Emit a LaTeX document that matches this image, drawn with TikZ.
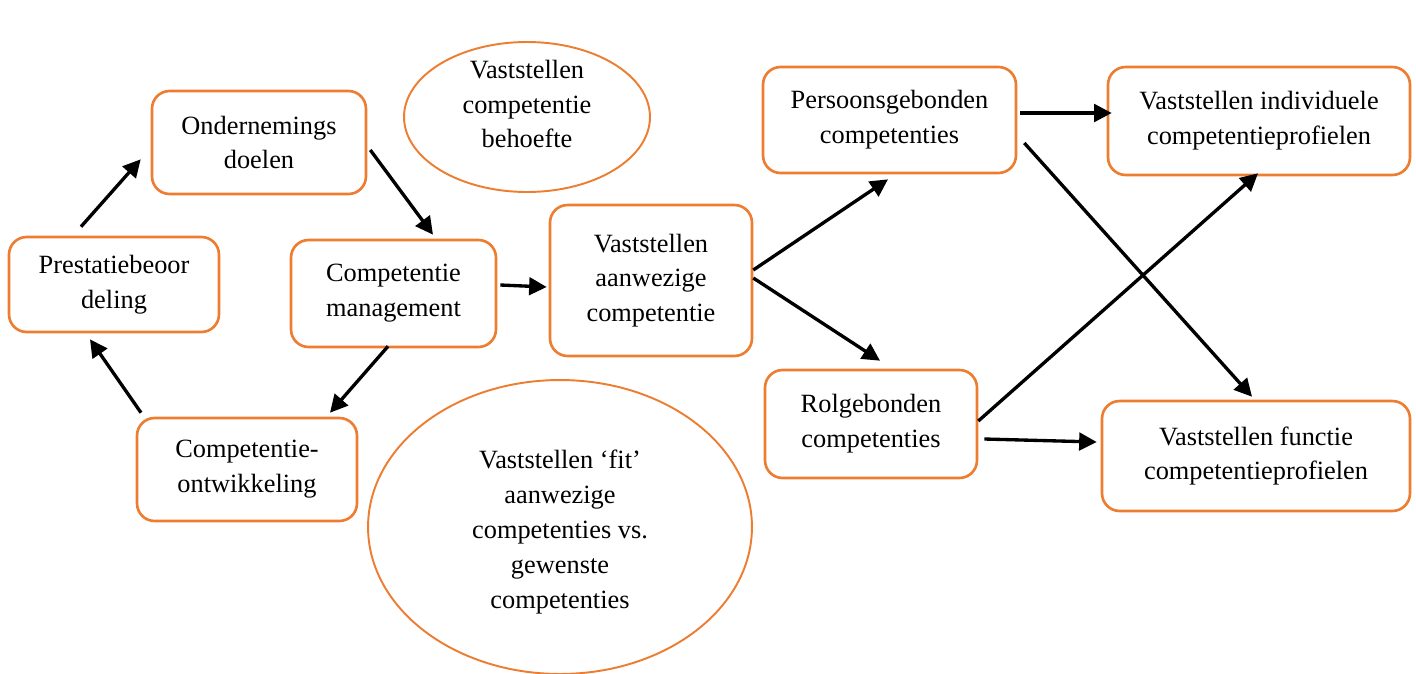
\documentclass[tikz,border=0pt]{standalone}
\usepackage{fontspec}
\setmainfont{Liberation Serif}
\usetikzlibrary{arrows.meta,shapes.geometric}
\definecolor{boxorange}{HTML}{ED7D31}
\tikzset{
  box/.style={draw=boxorange, line width=1.5pt, rounded corners=10pt, fill=white,
    align=center, inner sep=0pt, font=\fontsize{15}{19.8}\selectfont},
  oval/.style={draw=boxorange, line width=1.1pt, ellipse, inner sep=0pt},
  lbl/.style={align=center, inner sep=0pt, font=\fontsize{15}{19.8}\selectfont},
  arr/.style={draw=black, line width=1.9pt, -{Triangle[length=10pt,width=10pt]}}
}
\begin{document}
\begin{tikzpicture}[x=0.02cm, y=-0.02cm]
\useasboundingbox (0,0) rectangle (1416,673);

% ovals
\node[oval, minimum width=4.92cm, minimum height=3.0cm] (e1) at (527,117) {};
\node[lbl] (e1t) at (527,104) {Vaststellen\\competentie\\behoefte};
\node[oval, minimum width=7.68cm, minimum height=5.88cm] (e2) at (560,527) {};
\node[lbl] (e2t) at (560,532) {Vaststellen ‘fit’\\aanwezige\\competenties vs.\\gewenste\\competenties};

% boxes of the cycle
\node[box, minimum width=4.28cm, minimum height=2.06cm] (od) at (259,142.5) {Ondernemings\\doelen};
\node[box, minimum width=4.20cm, minimum height=1.90cm] (pb) at (114,284.5) {Prestatiebeoor\\deling};
\node[box, minimum width=4.10cm, minimum height=2.14cm] (cm) at (393.5,293.5) {Competentie\\management};
\node[box, minimum width=4.40cm, minimum height=2.06cm] (co) at (247,469.5) {Competentie-\\ontwikkeling};

% boxes of the flow
\node[box, minimum width=4.04cm, minimum height=3.02cm] (va) at (651,280.5) {Vaststellen\\aanwezige\\competentie};
\node[box, minimum width=5.06cm, minimum height=2.12cm] (pg) at (889.5,120) {Persoonsgebonden\\competenties};
\node[box, minimum width=4.24cm, minimum height=2.16cm] (rg) at (871,424) {Rolgebonden\\competenties};
\node[box, minimum width=6.04cm, minimum height=2.16cm] (vi) at (1259,121) {Vaststellen individuele\\competentieprofielen};
\node[box, minimum width=6.16cm, minimum height=2.20cm] (vf) at (1256,456) {Vaststellen functie\\competentieprofielen};

% cycle arrows
\draw[arr] ([shift={(-33,-9)}]pb.north) -- ([shift={(-10,-36)}]od.south west);
\draw[arr] ([shift={(3,7.5)}]od.east) -- ([shift={(39.5,-4)}]cm.north);
\draw[arr] ([shift={(-5.5,-2)}]cm.south) -- ([shift={(83,-4)}]co.north);
\draw[arr] ([shift={(-106,-4)}]co.north) -- ([shift={(-24,6)}]pb.south);

% flow arrows
\draw[arr] ([shift={(3,-8.5)}]cm.east) -- ([shift={(-2,6.5)}]va.west);
\draw[arr] ([shift={(0,-10.5)}]va.east) -- ([shift={(-1.5,5)}]pg.south);
\draw[arr] ([shift={(0,-2.5)}]va.east) -- ([shift={(9,-8)}]rg.north);
\draw[arr] ([shift={(3,-7)}]pg.east) -- ([shift={(5,-8)}]vi.west);
\draw[arr] ([shift={(7,23)}]pg.east) -- ([shift={(-4,-3)}]vf.north);
\draw[arr] ([shift={(0,-3)}]rg.east) -- ([shift={(-1,-3)}]vi.south);
\draw[arr] ([shift={(6,15)}]rg.east) -- ([shift={(-4,-14)}]vf.west);
\end{tikzpicture}
\end{document}
